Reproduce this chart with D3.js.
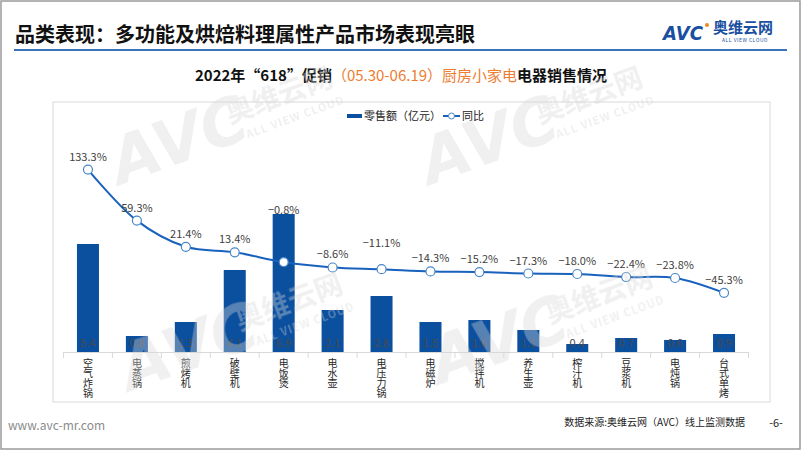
<!DOCTYPE html>
<html>
<head>
<meta charset="utf-8">
<script src="https://cdn.jsdelivr.net/npm/d3@7"></script>
<style>
  body { margin: 0; background: #fff; }
  svg { display: block; font-family: "Noto Sans CJK SC", "Noto Sans", sans-serif; }
</style>
</head>
<body>
<script>
// data
const categories = ['空气炸锅', '电蒸锅', '煎烤机', '破壁机', '电饭煲', '电水壶', '电压力锅', '电磁炉', '搅拌机', '养生壶', '榨汁机', '豆浆机', '电炖锅', '台式单烤'];
const sales = [5.4, 0.8, 1.5, 4.1, 6.9, 2.1, 2.8, 1.5, 1.6, 1.1, 0.4, 0.7, 0.6, 0.9];
const yoy = [133.3, 59.3, 21.4, 13.4, -0.8, -8.6, -11.1, -14.3, -15.2, -17.3, -18.0, -22.4, -23.8, -45.3];

const W = 802, H = 451;
const barColor = '#0b4f9f';
const lineColor = '#1862bd';
const textColor = '#404040';

const svg = d3.select('body').append('svg')
  .attr('width', W)
  .attr('height', H);

// outer frame
svg.append('rect')
  .attr('x', 1).attr('y', 1).attr('width', W - 3).attr('height', H - 3)
  .attr('fill', '#fff').attr('stroke', '#9a9a9a').attr('stroke-width', 1.5);

// page title
svg.append('text')
  .attr('x', 15).attr('y', 42)
  .attr('font-size', 20).attr('font-weight', 'bold').attr('fill', '#111')
  .text('品类表现：多功能及烘焙料理属性产品市场表现亮眼');

svg.append('line')
  .attr('x1', 14).attr('x2', 787).attr('y1', 50).attr('y2', 50)
  .attr('stroke', '#3a72c0').attr('stroke-width', 2);

// logo top right
const logo = svg.append('g');
logo.append('text')
  .attr('x', 663).attr('y', 40)
  .attr('font-size', 19).attr('font-weight', 'bold').attr('font-style', 'italic')
  .attr('font-family', 'DejaVu Sans').attr('fill', '#1a4fa0')
  .attr('textLength', 40).attr('lengthAdjust', 'spacingAndGlyphs')
  .text('AVC');
logo.append('circle').attr('cx', 707).attr('cy', 25).attr('r', 2).attr('fill', '#f08a24');
logo.append('text')
  .attr('x', 713).attr('y', 33)
  .attr('font-size', 15).attr('font-weight', 'bold').attr('fill', '#1a4fa0')
  .text('奥维云网');
logo.append('text')
  .attr('x', 745).attr('y', 42).attr('text-anchor', 'middle')
  .attr('font-size', 5).attr('fill', '#1a4fa0').attr('letter-spacing', 0.5)
  .text('ALL VIEW CLOUD');

// chart title
const ct = svg.append('text')
  .attr('x', 401).attr('y', 81).attr('text-anchor', 'middle')
  .attr('font-size', 15).attr('fill', '#111');
ct.append('tspan').attr('font-weight', 'bold').text('2022年“618”促销');
ct.append('tspan').attr('fill', '#ed7d31').text('（05.30-06.19）厨房小家电');
ct.append('tspan').attr('font-weight', 'bold').text('电器销售情况');

// chart panel
svg.append('rect')
  .attr('x', 53).attr('y', 102).attr('width', 717).attr('height', 300)
  .attr('fill', 'none').attr('stroke', '#d9d9d9').attr('stroke-width', 1);

// legend
const lg = svg.append('g').attr('font-size', 11).attr('fill', '#222');
lg.append('rect').attr('x', 347).attr('y', 114).attr('width', 15).attr('height', 4).attr('fill', barColor);
lg.append('text').attr('x', 364).attr('y', 120).text('零售额（亿元）');
lg.append('line').attr('x1', 443).attr('x2', 460).attr('y1', 116).attr('y2', 116)
  .attr('stroke', lineColor).attr('stroke-width', 2);
lg.append('circle').attr('cx', 451.5).attr('cy', 116).attr('r', 3)
  .attr('fill', '#fff').attr('stroke', '#4a86c8').attr('stroke-width', 1);
lg.append('text').attr('x', 462).attr('y', 120).text('同比');

// scales
const x = d3.scaleBand()
  .domain(categories)
  .range([63.5, 748.5])
  .paddingInner(0.55)
  .paddingOuter(0.275);

const yBar = d3.scaleLinear().domain([0, 8]).range([352, 192]);
const yLine = d3.scaleLinear().domain([-131, 150]).range([352, 158]);

const cx = d => x(d) + x.bandwidth() / 2;

// bars
svg.append('g').selectAll('rect')
  .data(categories)
  .join('rect')
  .attr('x', d => x(d))
  .attr('y', (d, i) => yBar(sales[i]))
  .attr('width', x.bandwidth())
  .attr('height', (d, i) => yBar(0) - yBar(sales[i]))
  .attr('fill', barColor);

// bar value labels
svg.append('g').attr('font-size', 11).attr('fill', '#4a4a4a').attr('text-anchor', 'middle')
  .selectAll('text')
  .data(categories)
  .join('text')
  .attr('x', cx)
  .attr('y', yBar(0) - 5)
  .text((d, i) => sales[i].toFixed(1));

// x axis line and ticks
const step = x.step();
const ax = svg.append('g').attr('stroke', '#d9d9d9').attr('stroke-width', 1);
ax.append('line').attr('x1', x.range()[0]).attr('x2', x.range()[1])
  .attr('y1', yBar(0) + 0.5).attr('y2', yBar(0) + 0.5);
ax.selectAll('.tick')
  .data(categories.concat(['end']))
  .join('line')
  .attr('class', 'tick')
  .attr('x1', (d, i) => x.range()[0] + i * step)
  .attr('x2', (d, i) => x.range()[0] + i * step)
  .attr('y1', yBar(0)).attr('y2', yBar(0) + 6);

// vertical category labels
svg.append('g').attr('font-size', 10).attr('fill', '#262626')
  .selectAll('text')
  .data(categories)
  .join('text')
  .attr('x', cx)
  .attr('y', 358)
  .attr('writing-mode', 'vertical-rl')
  .text(d => d);

// yoy line
const line = d3.line()
  .x(d => cx(d))
  .y((d, i) => yLine(yoy[i]))
  .curve(d3.curveCatmullRom.alpha(0.5));

svg.append('path')
  .datum(categories)
  .attr('d', line)
  .attr('fill', 'none')
  .attr('stroke', lineColor)
  .attr('stroke-width', 2);

svg.append('g').selectAll('circle')
  .data(categories)
  .join('circle')
  .attr('cx', cx)
  .attr('cy', (d, i) => yLine(yoy[i]))
  .attr('r', 4.5)
  .attr('fill', '#fff')
  .attr('stroke', '#4a86c8')
  .attr('stroke-width', 1.2);

// yoy labels
const nudge = { '电压力锅': -13 };
svg.append('g').attr('font-size', 11).attr('fill', textColor).attr('text-anchor', 'middle')
  .selectAll('text')
  .data(categories)
  .join('text')
  .attr('x', cx)
  .attr('y', (d, i) => {
    const py = yLine(yoy[i]) - 9;
    const by = yBar(sales[i]);
    return Math.min(py, by) + (nudge[d] || 0);
  })
  .text((d, i) => yoy[i].toFixed(1).replace('-', '−') + '%');

// watermarks (drawn over the plot, semi-transparent)
const marks = [[120, 185], [430, 185], [130, 392], [440, 385]];
const wm = svg.append('g').attr('fill', '#d6d6d6').attr('opacity', 0.38).attr('pointer-events', 'none');
marks.forEach(([mx, my]) => {
  const g = wm.append('g').attr('transform', `translate(${mx},${my}) rotate(-20)`);
  g.append('text').attr('x', 0).attr('y', 0)
    .attr('font-size', 64).attr('font-weight', 'bold').attr('font-style', 'italic')
    .attr('font-family', 'DejaVu Sans').text('AVC');
  g.append('text').attr('x', 124).attr('y', -20)
    .attr('font-size', 28).attr('font-weight', 'bold').text('奥维云网');
  g.append('text').attr('x', 136).attr('y', 0)
    .attr('font-size', 11).attr('font-weight', 'bold').attr('letter-spacing', 1).text('ALL VIEW CLOUD');
});

// footer
svg.append('text')
  .attr('x', 8).attr('y', 430)
  .attr('font-size', 12).attr('fill', '#8c8c8c')
  .text('www.avc-mr.com');

svg.append('text')
  .attr('x', 745).attr('y', 426).attr('text-anchor', 'end')
  .attr('font-size', 10).attr('fill', '#222')
  .text('数据来源:奥维云网（AVC）线上监测数据');

svg.append('text')
  .attr('x', 776).attr('y', 427).attr('text-anchor', 'middle')
  .attr('font-size', 11).attr('fill', '#222')
  .text('-6-');
</script>
</body>
</html>
